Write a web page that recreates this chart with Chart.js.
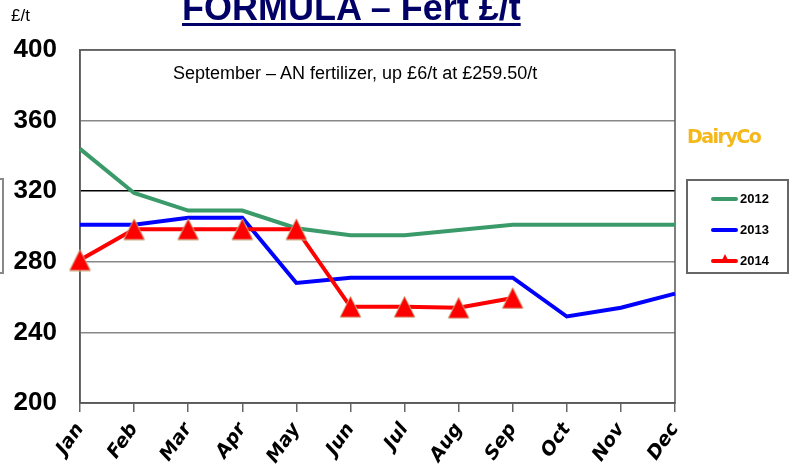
<!DOCTYPE html>
<html>
<head>
<meta charset="utf-8">
<script src="https://cdn.jsdelivr.net/npm/chart.js@4.4.1/dist/chart.umd.min.js"></script>
<style>
  body { margin: 0; background: #fff; }
  #wrap { position: relative; width: 793px; height: 474px; overflow: hidden; background: #fff; }
  #title { position: absolute; left: 182px; top: -10px; font: bold 36px "Liberation Sans", Arial, sans-serif; line-height: 36px;
           color: #000066; text-decoration: underline; text-decoration-thickness: 3px; text-underline-offset: 3px; white-space: nowrap; }
  #unit { position: absolute; left: 11px; top: 6px; font: 17px "Liberation Sans", Arial, sans-serif; color: #000; }
  #note { position: absolute; left: 173px; top: 63px; font: 18px "Liberation Sans", Arial, sans-serif; color: #000; white-space: nowrap; }
  #logo { position: absolute; left: 687px; top: 125px; font: bold 19px "DejaVu Sans", sans-serif; color: #f5b81a; letter-spacing: -1.5px; }
  #leftbox { position: absolute; left: -100px; top: 178px; width: 100px; height: 92px; border: 2px solid #888; }
  #legend { position: absolute; left: 686px; top: 179px; width: 99px; height: 91px; border: 2px solid #666; }
  .item { position: absolute; left: 23px; height: 14px; font: bold 13px "Liberation Sans Narrow", "Liberation Sans", sans-serif; color: #000; }
  .item span.ln { position: absolute; left: 0; top: 6px; width: 27px; height: 4px; border-radius: 2px; }
  .item span.tx { position: absolute; left: 29px; top: 0; }
  .item span.tri { position: absolute; left: 10px; top: 1px; width: 0; height: 0;
                   border-left: 4px solid transparent; border-right: 4px solid transparent; border-bottom: 8px solid #ff0000; }
</style>
</head>
<body>
<div id="wrap">
  <canvas id="chart" width="793" height="474"></canvas>
  <div id="title">FORMULA – Fert £/t</div>
  <div id="unit">£/t</div>
  <div id="note">September – AN fertilizer, up £6/t at £259.50/t</div>
  <div id="logo">DairyCo</div>
  <div id="leftbox"></div>
  <div id="legend"></div>
</div>
<script>
var months = ['Jan', 'Feb', 'Mar', 'Apr', 'May', 'Jun', 'Jul', 'Aug', 'Sep', 'Oct', 'Nov', 'Dec'];
var years = ['2012', '2013', '2014'];
var fert2012 = [344, 319, 309, 309, 299, 295, 295, 298, 301, 301, 301, 301];
var fert2013 = [301, 301, 305, 305, 268, 271, 271, 271, 271, 249, 254, 262];
var fert2014 = [281, 298.5, 298.5, 298.5, 298.5, 254.5, 254.5, 254, 259.5, null, null, null];
var yTicks = [200, 240, 280, 320, 360, 400];

var colors = ['#3a9a6a', '#0000ff', '#ff0000'];

// red triangle marker, centred on the point
var tri = document.createElement('canvas');
tri.width = 23; tri.height = 23;
(function () {
    var c = tri.getContext('2d');
    c.beginPath();
    c.moveTo(11.5, 1); c.lineTo(22, 22); c.lineTo(1, 22); c.closePath();
    c.fillStyle = '#ff0000'; c.fill();
    c.strokeStyle = '#c8b48c'; c.lineWidth = 1; c.stroke();
})();

// box around the plot area
var frame = {
    id: 'frame',
    beforeDatasetsDraw: function (chart) {
        var a = chart.chartArea, ctx = chart.ctx;
        ctx.save();
        ctx.strokeStyle = '#555';
        ctx.lineWidth = 1.5;
        ctx.strokeRect(a.left, a.top, a.right - a.left, a.bottom - a.top);
        ctx.restore();
    }
};

var chart = new Chart(document.getElementById('chart'), {
    type: 'line',
    data: {
        labels: months,
        datasets: [
            { label: years[0], data: fert2012, borderColor: colors[0], borderWidth: 4, pointRadius: 0, order: 2 },
            { label: years[1], data: fert2013, borderColor: colors[1], borderWidth: 4, pointRadius: 0, order: 1 },
            { label: years[2], data: fert2014, borderColor: colors[2], borderWidth: 4, pointStyle: tri, pointRadius: 11, order: 0 }
        ]
    },
    options: {
        responsive: false,
        animation: false,
        layout: { padding: { top: 50, right: 118, left: 0, bottom: 0 } },
        plugins: { legend: { display: false }, tooltip: { enabled: false } },
        elements: { line: { tension: 0 } },
        scales: {
            x: {
                grid: { drawOnChartArea: false, tickLength: 9, color: '#666', lineWidth: 1.5 },
                border: { color: '#666', width: 1.5 },
                ticks: {
                    minRotation: 55, maxRotation: 55, padding: 7, color: '#000',
                    font: { family: '"DejaVu Sans", sans-serif', size: 19, weight: 'bold', style: 'italic' }
                },
                afterFit: function (s) { s.height = 71; }
            },
            y: {
                min: 200, max: 400,
                afterBuildTicks: function (s) { s.ticks = yTicks.map(function (v) { return { value: v }; }); },
                grid: {
                    drawTicks: false, lineWidth: 1.5,
                    color: function (c) { return c.tick && c.tick.value === 320 ? '#000' : '#888'; }
                },
                border: { color: '#666', width: 1.5 },
                ticks: {
                    padding: 23, color: '#000',
                    font: { family: '"Liberation Sans Narrow", "Liberation Sans", sans-serif', size: 26, weight: 'bold' }
                },
                afterFit: function (s) { s.width = 80; }
            }
        }
    },
    plugins: [frame]
});

// legend box built from the datasets
var lg = document.getElementById('legend');
chart.data.datasets.forEach(function (ds, i) {
    var d = document.createElement('div');
    d.className = 'item';
    d.style.top = (10 + i * 31) + 'px';
    d.innerHTML = '<span class="ln" style="background:' + ds.borderColor + '"></span>' +
        (i === 2 ? '<span class="tri"></span>' : '') +
        '<span class="tx">' + ds.label + '</span>';
    lg.appendChild(d);
});
</script>
</body>
</html>
